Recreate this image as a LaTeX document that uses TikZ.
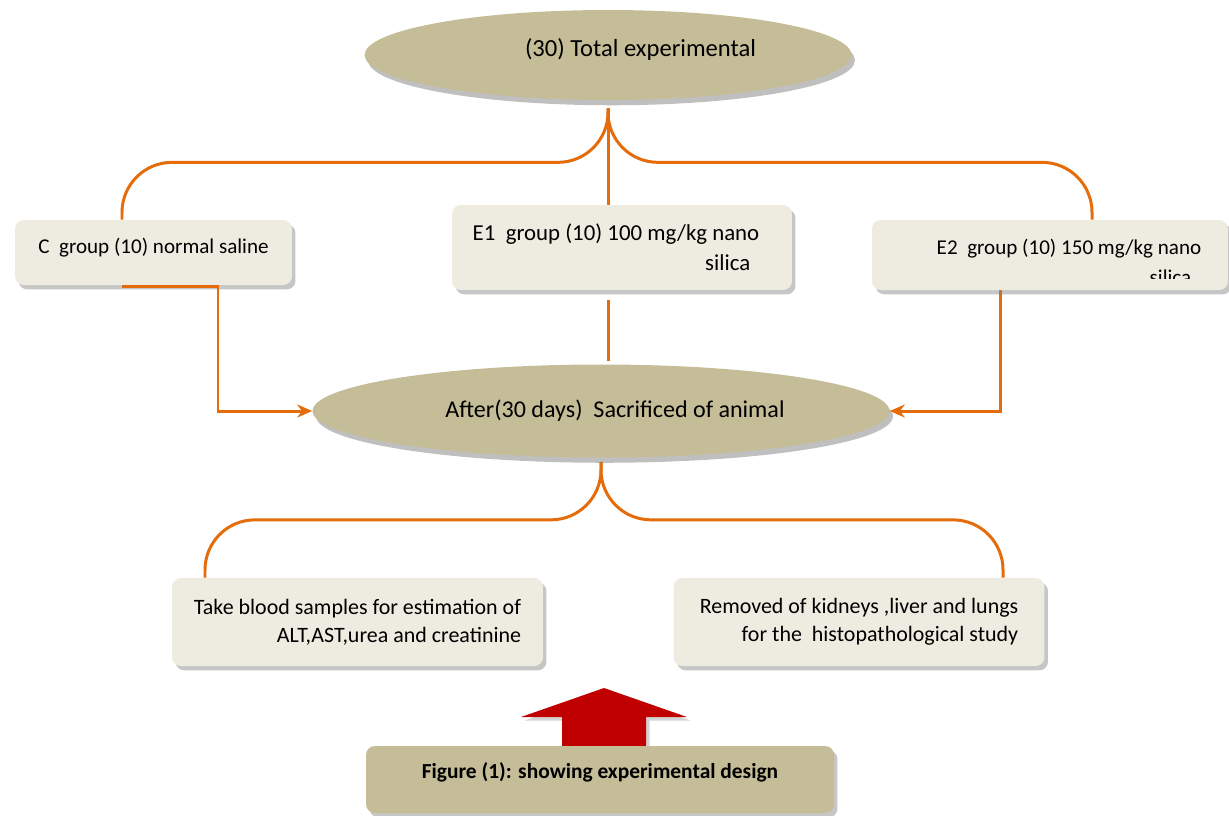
\documentclass[tikz,border=0pt]{standalone}
\usepackage{fontspec}
\setmainfont{Carlito}
\usepackage{tikz}
\usetikzlibrary{positioning,arrows.meta,calc,shapes.geometric,shadows,backgrounds}
\definecolor{LinkOrange}{RGB}{228,108,10}
\definecolor{OvalTan}{RGB}{196,189,151}
\definecolor{BoxCream}{RGB}{238,236,225}
\definecolor{ArrowRed}{RGB}{192,0,0}
\tikzset{
  oval/.style={ellipse, fill=OvalTan, draw=none, inner sep=0pt,
    drop shadow={opacity=0.5, shadow xshift=2pt, shadow yshift=-3pt},
    font=\fontsize{14}{16}\selectfont},
  grp/.style={rectangle, rounded corners=5pt, fill=BoxCream, inner sep=0pt,
    drop shadow={opacity=0.45, shadow xshift=2pt, shadow yshift=-2.5pt},
    font=\fontsize{12}{17}\selectfont},
  task/.style={grp, align=right, minimum width=7.42cm, minimum height=1.76cm,
    font=\fontsize{12.5}{16}\selectfont},
  link/.style={draw=LinkOrange, line width=1.7pt},
  brace/.style={link, rounded corners=1cm},
  arrow/.style={link, -{Stealth[length=3mm, width=2.6mm]}}
}

\begin{document}
\begin{tikzpicture}[x=0.02cm, y=-0.02cm]
  \useasboundingbox (0,0) rectangle (1229,815);
  % ovals
  \node[oval, minimum width=9.74cm, minimum height=1.8cm, text depth=0.3cm] (total) at (608,55) {\hspace*{1.3cm}(30) Total experimental};
  \node[oval, minimum width=11.54cm, minimum height=1.86cm, font=\fontsize{13.7}{16}\selectfont] (sacr) at (601,411) {\hspace*{0.56cm}After(30 days)\ \ Sacrificed of animal};
  % groups
  \node[grp, minimum width=5.54cm, minimum height=1.3cm, text depth=0.25cm] (cgrp) at (153.5,252.5) {C\ \ group (10) normal saline};
  \node[grp, align=right, minimum width=6.8cm, minimum height=1.7cm, font=\fontsize{13}{17}\selectfont] (e1grp) at (622,247.5) {E1\ \ group (10) 100 mg/kg nano\hspace*{0.24cm}\\ silica\hspace*{0.42cm}};
  \node[grp, minimum width=7.12cm, minimum height=1.4cm] (e2grp) at (1050,255) {};
  \begin{scope}
    \clip (872,205) rectangle (1229,278);
    \node[align=right, inner sep=0pt, font=\fontsize{12}{17}\selectfont] (e2txt) at (1069,262) {E2\ \ group (10) 150 mg/kg nano\\ silica\hspace*{0.2cm}};
  \end{scope}
  % tasks
  \node[task] (blood) at (357.5,622) {Take blood samples for estimation of\\ ALT,AST,urea and creatinine};
  \node[task] (organs) at (859,622) {Removed of kidneys ,liver and lungs\\ for the\ \ histopathological study};
  % red arrow and caption
  \fill[ArrowRed, drop shadow={opacity=0.35, shadow xshift=2pt, shadow yshift=-2pt}]
    (604,688) -- (687,717) -- (646,717) -- (646,747) -- (562,747) -- (562,717) -- (521,717) -- cycle;
  \node[grp, fill=OvalTan, minimum width=9.36cm, minimum height=1.34cm, text depth=0.34cm,
    font=\bfseries\fontsize{12.2}{14}\selectfont] (caption) at (600,779.5) {Figure (1): showing experimental design};
  % connectors
  \draw[arrow] ($(cgrp.south)+(-31.5,1)$) -- ++(96,0) |- (sacr.west);
  \begin{scope}[on background layer]
    \coordinate (tb) at ($(total.south)+(0,8)$);
    \coordinate (bb) at ($(sacr.south)+(0,4)$);
    \draw[brace] (tb) -- ++(0,54) -| ($(cgrp.north)+(-31.5,0)$);
    \draw[brace] (tb) -- ++(0,54) -| ($(e2grp.north)+(42,0)$);
    \draw[link] (tb) -- (tb |- e1grp.north);
    \draw[arrow] ($(e2grp.south)+(-50,0)$) |- (sacr.east);
    \draw[link] ($(e1grp.south -| tb)+(0,10)$) -- ($(sacr.north -| tb)+(0,-3)$);
    \draw[brace] (bb) -- ++(0,58) -| ($(blood.north)+(-152.5,0)$);
    \draw[brace] (bb) -- ++(0,58) -| ($(organs.north)+(144,0)$);
  \end{scope}
\end{tikzpicture}
\end{document}
